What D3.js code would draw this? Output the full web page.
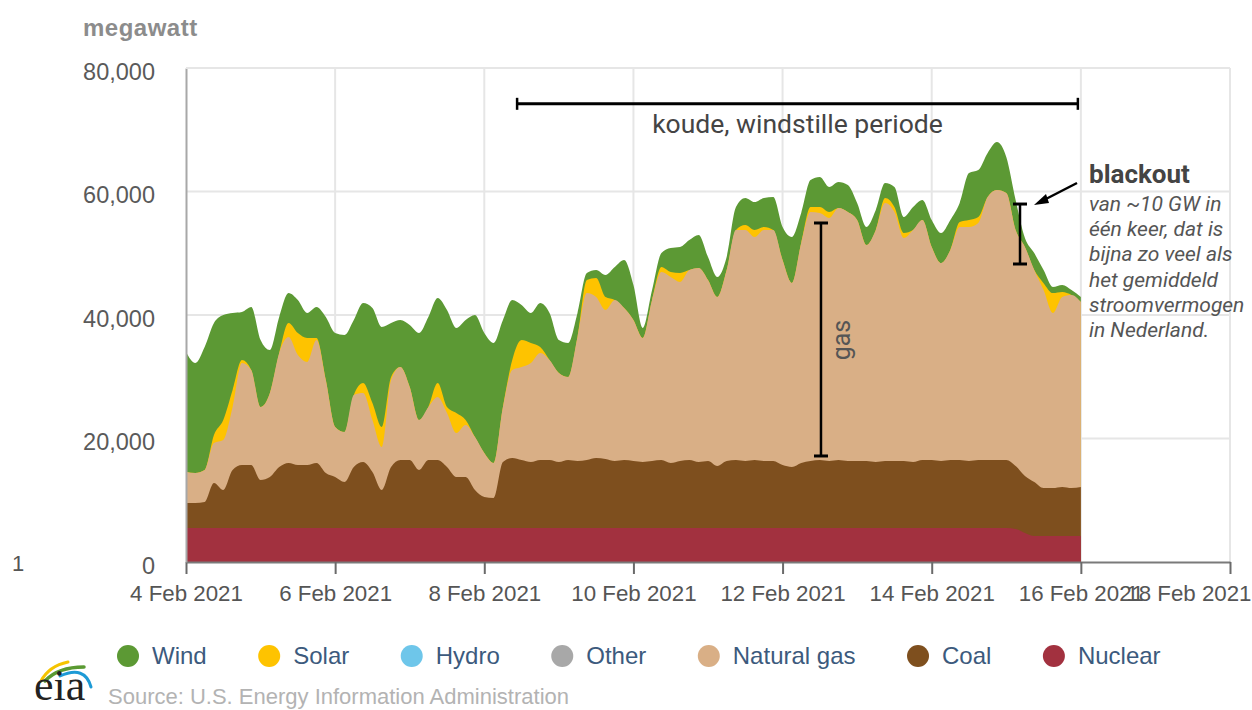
<!DOCTYPE html>
<html><head><meta charset="utf-8">
<script src="https://cdn.jsdelivr.net/npm/d3@7"></script>
<style>body{margin:0;background:#fff;overflow:hidden} svg{display:block}</style>
</head><body>
<svg id="c" width="1252" height="710"></svg>
<script>
// ---- data (MW, 3-hourly from 4 Feb 2021 00:00 to 16 Feb 2021 00:00) ----
const startDate = "2021-02-04T00:00:00Z";
const stepHours = 3;
const legendNames = ["Wind","Solar","Hydro","Other","Natural gas","Coal","Nuclear"];
const legendColors = ["#5c9934","#fec300","#6ec6ea","#a8a8a8","#d9af86","#7e4f1e","#a2313f"];
const xTickDates = ["2021-02-04","2021-02-06","2021-02-08","2021-02-10","2021-02-12","2021-02-14","2021-02-16","2021-02-18"];
const yTicks = [0,20000,40000,60000,80000];

const nuclear = [
5500,5500,5500,5500,5500,5500,5500,5500,
5500,5500,5500,5500,5500,5500,5500,5500,
5500,5500,5500,5500,5500,5500,5500,5500,
5500,5500,5500,5500,5500,5500,5500,5500,
5500,5500,5500,5500,5500,5500,5500,5500,
5500,5500,5500,5500,5500,5500,5500,5500,
5500,5500,5500,5500,5500,5500,5500,5500,
5500,5500,5500,5500,5500,5500,5500,5500,
5500,5500,5500,5500,5500,5500,5500,5500,
5500,5500,5500,5500,5500,5500,5500,5500,
5500,5500,5500,5500,5500,5500,5500,5500,
5500,5350,4700,4200,4200,4200,4200,4200,
4200];
const coal = [
4050,4050,4210,7290,6150,9390,10200,10200,
7770,8260,9880,10530,10200,10200,10530,8910,
8260,7450,9880,10690,9070,6150,9880,11010,
11010,9390,11010,11010,9880,8260,8260,6150,
5020,4860,10690,11340,11010,10690,11010,11010,
10690,11010,10850,11010,11340,11170,10850,11010,
10850,10690,10850,11010,10530,10850,11010,10690,
10850,10040,10850,11010,10850,11010,10850,10850,
10200,9880,10530,10850,11010,10850,11010,10850,
10850,10850,10690,10850,10850,10850,10690,11010,
11010,10850,11010,11010,10850,11010,11010,11010,
11010,10200,9230,8750,7770,7770,7940,7770,
7940];
const gas = [
5020,4860,5180,6480,8100,10200,16520,15390,
11820,13600,18460,20400,17810,16680,19920,15060,
8100,8100,11660,11170,8420,6960,14090,15060,
11820,8100,8580,10200,8750,7130,8420,8580,
7130,5670,8910,14250,15060,16030,17330,16200,
14410,13440,20080,27040,26070,24130,26070,24610,
22830,20080,26070,30440,30120,28990,30770,31420,
29310,27370,30930,37250,37410,36110,37410,37410,
33200,29800,35630,40320,40000,39350,40810,40320,
39030,34980,37570,41780,40320,36110,37570,38870,
34490,32060,34010,37730,37890,38380,42590,43720,
43240,38220,37080,34330,32060,28340,30770,31260,
29960];
const solar = [
0,0,0,1300,3240,2750,490,0,
0,0,0,2270,3560,3890,320,0,
0,0,0,1620,2750,3240,490,0,
0,0,0,2270,970,3240,810,0,
0,0,0,1620,4370,3240,970,0,
0,0,0,2110,3080,2110,0,0,
0,0,0,810,810,1460,0,0,
0,0,0,0,810,1130,490,0,
0,0,0,810,970,970,0,0,
0,0,0,810,810,810,0,0,
0,0,0,810,1130,970,0,0,
0,0,0,0,1130,3240,810,0,
0];
const wind = [
19430,17810,19920,18140,17000,12470,7770,10200,
10850,6960,5830,4860,5340,4050,5020,10200,
15220,15710,12150,12960,15390,16200,8750,7610,
10040,14090,14580,13770,15710,13770,16200,19760,
19430,19430,14090,9720,5670,4860,7130,7610,
5340,5510,3890,1130,1300,3560,5340,7770,
5670,1620,1620,2270,3890,4210,4860,5340,
3720,3240,2110,3720,4370,4530,4700,5340,
5340,7450,4860,4370,4860,4050,4210,4370,
2750,2920,3240,2430,3240,2590,3720,3240,
4370,4860,4860,3080,7610,7610,7130,7770,
5830,4860,1460,2750,2110,970,1130,810,
810];

// ---- setup ----
const svg = d3.select("#c");
const pLeft = 186, pRight = 1230, pTop = 68, pBottom = 562;
const t0 = new Date(startDate).getTime();
const times = nuclear.map((_, i) => new Date(t0 + i * stepHours * 3600000));
const x = d3.scaleUtc().domain([new Date("2021-02-04T00:00:00Z"), new Date("2021-02-18T00:00:00Z")]).range([pLeft, pRight]);
const y = d3.scaleLinear().domain([0, 80000]).range([pBottom, pTop]);
const xTicks = xTickDates.map(s => new Date(s + "T00:00:00Z"));
const dayX = d => x(new Date(t0 + d * 86400000));

// grid
svg.append("g").selectAll("line").data(yTicks.filter(v => v > 0)).join("line")
  .attr("x1", pLeft).attr("x2", pRight).attr("y1", d => y(d)).attr("y2", d => y(d))
  .attr("stroke", "#e6e6e6").attr("stroke-width", 2);
svg.append("g").selectAll("line").data(xTicks.slice(1)).join("line")
  .attr("x1", d => x(d)).attr("x2", d => x(d)).attr("y1", pTop).attr("y2", pBottom)
  .attr("stroke", "#e6e6e6").attr("stroke-width", 2);

// stacked areas
const keys = ["nuclear","coal","gas","solar","wind"];
const colors = {nuclear:"#a2313f", coal:"#7e4f1e", gas:"#d9af86", solar:"#fec300", wind:"#5c9934"};
const rows = times.map((t, i) => ({t, nuclear: nuclear[i], coal: coal[i], gas: gas[i], solar: solar[i], wind: wind[i]}));
const stacked = d3.stack().keys(keys)(rows);
const area = d3.area().x(d => x(d.data.t)).y0(y(0)).y1(d => y(d[1])).curve(d3.curveMonotoneX);
svg.append("g").selectAll("path").data(stacked.slice().reverse()).join("path")
  .attr("fill", d => colors[d.key]).attr("d", area);

// axes
const xAxis = d3.axisBottom(x).tickValues(xTicks).tickFormat(d3.utcFormat("%-d %b %Y"))
  .tickSize(12).tickSizeOuter(0).tickPadding(11);
const gx = svg.append("g").attr("transform", `translate(0,${pBottom})`).call(xAxis);
gx.select(".domain").attr("stroke", "#7a7a7a").attr("stroke-width", 2);
gx.selectAll(".tick line").attr("stroke", "#6a6a6a").attr("stroke-width", 2);
gx.selectAll(".tick text").attr("font-family", "'Liberation Sans', Arial, sans-serif")
  .attr("font-size", 22.3).attr("fill", "#555");
// last label justified inside the chart edge (overlaps the previous one, as in the original)
gx.selectAll(".tick text").filter((d, i, n) => i === n.length - 1)
  .attr("text-anchor", "end").attr("x", 1251 - pRight);

const yAxis = d3.axisLeft(y).tickValues(yTicks).tickFormat(d3.format(",")).tickSize(0).tickPadding(31);
const gy = svg.append("g").attr("transform", `translate(${pLeft},0)`).call(yAxis);
gy.select(".domain").attr("stroke", "#a8a8a8").attr("stroke-width", 2);
gy.selectAll(".tick text").attr("font-family", "'Liberation Sans', Arial, sans-serif")
  .attr("font-size", 23.5).attr("fill", "#5a5a5a").attr("dy", "0.48em");

// top gridline drawn over
svg.append("line").attr("x1", pLeft).attr("x2", pRight).attr("y1", y(80000)).attr("y2", y(80000))
  .attr("stroke", "#e6e6e6").attr("stroke-width", 2);

// unit label
svg.append("text").attr("x", 83).attr("y", 36).text("megawatt")
  .attr("font-family", "'Liberation Sans', Arial, sans-serif").attr("font-weight", "bold")
  .attr("font-size", 24).attr("letter-spacing", 0.5).attr("fill", "#8c8c8c");
svg.append("text").attr("x", 18).attr("y", 571).attr("text-anchor", "middle").text("1")
  .attr("font-family", "'Liberation Sans', Arial, sans-serif").attr("font-size", 22).attr("fill", "#555");

// ---- annotations ----
const ann = svg.append("g").attr("stroke", "#000").attr("stroke-width", 3).attr("fill", "none");
// koude bracket
const kx0 = dayX(4.44), kx1 = dayX(11.96), ky = y(74200);
ann.append("line").attr("x1", kx0).attr("x2", kx1).attr("y1", ky).attr("y2", ky);
[kx0, kx1].forEach(v => ann.append("line").attr("x1", v).attr("x2", v).attr("y1", ky - 6).attr("y2", ky + 6).attr("stroke-width", 2.5));
svg.append("text").attr("x", (kx0 + kx1) / 2).attr("y", 133).attr("text-anchor", "middle")
  .text("koude, windstille periode").attr("font-family", "Roboto, sans-serif").attr("font-size", 26.5).attr("fill", "#444");
// gas bracket
const gxp = dayX(8.515), gy0 = y(54900), gy1 = y(17170);
ann.append("line").attr("x1", gxp).attr("x2", gxp).attr("y1", gy0).attr("y2", gy1).attr("stroke-width", 2.5);
[gy0, gy1].forEach(v => ann.append("line").attr("x1", gxp - 7).attr("x2", gxp + 7).attr("y1", v).attr("y2", v).attr("stroke-width", 3));
svg.append("text").attr("transform", `translate(${gxp + 29},340) rotate(-90)`).attr("text-anchor", "middle")
  .text("gas").attr("font-family", "Roboto, sans-serif").attr("font-size", 25).attr("fill", "#555");
// blackout bracket
const bx = dayX(11.184), by0 = y(57970), by1 = y(48260);
ann.append("line").attr("x1", bx).attr("x2", bx).attr("y1", by0).attr("y2", by1).attr("stroke-width", 2.5);
[by0, by1].forEach(v => ann.append("line").attr("x1", bx - 7).attr("x2", bx + 7).attr("y1", v).attr("y2", v).attr("stroke-width", 3));
// arrow
ann.append("line").attr("x1", 1077).attr("y1", 183).attr("x2", 1042).attr("y2", 201).attr("stroke-width", 2.5);
svg.append("path").attr("d", "M1034,205 L1046,194 L1049,203 Z").attr("fill", "#000");
svg.append("text").attr("x", 1089).attr("y", 183).text("blackout")
  .attr("font-family", "Roboto, sans-serif").attr("font-weight", "bold").attr("font-size", 26).attr("fill", "#444");
const noteLines = ["van ~10 GW in","één keer, dat is","bijna zo veel als","het gemiddeld","stroomvermogen","in Nederland."];
svg.append("g").selectAll("text").data(noteLines).join("text")
  .attr("x", 1089).attr("y", (d, i) => 211 + i * 25.2).text(d => d)
  .attr("font-family", "Roboto, sans-serif").attr("font-style", "italic").attr("font-size", 21).attr("fill", "#555");

// ---- legend ----
const leg = svg.append("g");
let cx = 128;
legendNames.forEach((name, i) => {
  leg.append("circle").attr("cx", cx).attr("cy", 656).attr("r", 11).attr("fill", legendColors[i]);
  const t = leg.append("text").attr("x", cx + 24).attr("y", 664).text(name)
    .attr("font-family", "'Liberation Sans', Arial, sans-serif").attr("font-size", 24).attr("fill", "#3c5a7d");
  cx = cx + 24 + t.node().getComputedTextLength() + 62.5;
});

// ---- eia logo + source ----
const logo = svg.append("g").attr("fill", "none").attr("stroke-linecap", "round");
logo.append("path").attr("d", "M41,681 Q49,666 68,662").attr("stroke", "#f5c400").attr("stroke-width", 3);
logo.append("path").attr("d", "M45,681 Q58,667 84,667").attr("stroke", "#5a9a32").attr("stroke-width", 3.5);
logo.append("path").attr("d", "M60,676 Q85,665 91,687").attr("stroke", "#1d9ad6").attr("stroke-width", 3);
svg.append("text").attr("x", 34).attr("y", 700).text("eia")
  .attr("font-family", "'Liberation Serif', 'DejaVu Serif', serif").attr("font-size", 44).attr("fill", "#222");
svg.append("text").attr("x", 108).attr("y", 704).text("Source: U.S. Energy Information Administration")
  .attr("font-family", "'Liberation Sans', Arial, sans-serif").attr("font-size", 22).attr("fill", "#b3b3b3");
</script>
</body></html>
